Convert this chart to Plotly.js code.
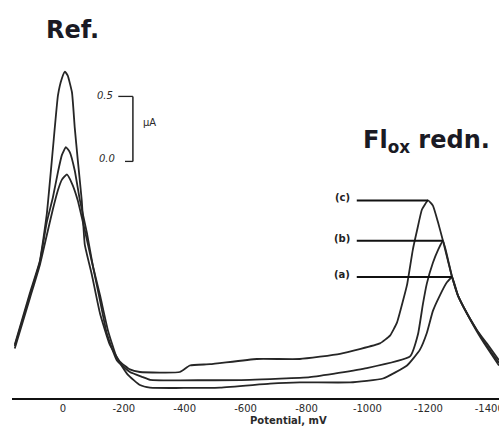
<!DOCTYPE html>
<html>
<head>
<meta charset="utf-8">
<script src="https://cdn.plot.ly/plotly-3.0.1.min.js"></script>
<style>html,body{margin:0;padding:0;background:#fff;}#chart{width:499px;height:429px;}</style>
</head>
<body>
<div id="chart"></div>
<script>
// Potential (mV) and current (uA, arbitrary offset) for the three voltammograms
const potC = [158,108,76,53,33,16,3,-7,-16,-30,-39,-49,-62,-72,-95,-122,-154,-187,-220,-253,-384,-417,-483,-637,-778,-910,-1041,-1074,-1097,-1117,-1130,-1149,-1163,-1179,-1199,-1215,-1232,-1248,-1264,-1278,-1297,-1327,-1360,-1392,-1432];
const curC = [0.41,0.81,1.05,1.41,1.91,2.33,2.46,2.51,2.48,2.35,2.08,1.83,1.52,1.18,0.95,0.65,0.41,0.28,0.22,0.20,0.20,0.25,0.26,0.30,0.30,0.34,0.42,0.48,0.58,0.75,0.87,1.14,1.29,1.45,1.52,1.48,1.35,1.21,1.06,0.93,0.79,0.65,0.52,0.42,0.29];

const potB = [158,108,76,53,33,16,3,-10,-23,-39,-56,-79,-99,-122,-144,-177,-220,-263,-286,-614,-811,-998,-1140,-1166,-1182,-1195,-1215,-1232,-1248,-1264,-1278,-1297,-1327,-1360,-1392,-1432];
const curB = [0.40,0.79,1.04,1.35,1.54,1.74,1.87,1.93,1.89,1.75,1.52,1.27,1.01,0.75,0.50,0.29,0.20,0.16,0.14,0.14,0.16,0.23,0.32,0.49,0.72,0.88,1.04,1.14,1.21,1.07,0.93,0.79,0.65,0.52,0.40,0.27];

const potA = [158,108,76,53,33,16,3,-13,-30,-49,-72,-95,-122,-148,-177,-213,-253,-286,-516,-680,-778,-943,-1051,-1130,-1172,-1195,-1215,-1238,-1261,-1278,-1297,-1327,-1360,-1392,-1432];
const curA = [0.38,0.77,1.02,1.25,1.45,1.60,1.68,1.72,1.65,1.52,1.29,1.05,0.79,0.52,0.31,0.18,0.10,0.08,0.08,0.11,0.12,0.12,0.15,0.25,0.37,0.50,0.67,0.79,0.89,0.93,0.79,0.65,0.51,0.39,0.25];

const tickVals = [0,-200,-400,-600,-800,-1000,-1200,-1400];
const tickText = ['0','-200','-400','-600','-800','-1000','-1200','-1400'];

// peak labels: name, peak potential, peak current
const peakNames = ['(c)','(b)','(a)'];
const peakPot = [-1199,-1248,-1278];
const peakCur = [1.52,1.21,0.93];
const labelLineStart = -965;

// scale bar (0.5 uA)
const scaleBarLow = 1.82, scaleBarHigh = 2.32;

const W = 499, H = 429, ML = 12, MR = 0, MT = 40, MB = 31;
const pxX = px => (px - ML) / (W - ML - MR);
const pxY = py => (H - MB - py) / (H - MT - MB);

const lineStyle = {color:'#262626', width:1.8, shape:'spline', smoothing:0.4};
const traces = [
  {x:potC, y:curC, mode:'lines', line:lineStyle, name:'c', hoverinfo:'skip'},
  {x:potB, y:curB, mode:'lines', line:lineStyle, name:'b', hoverinfo:'skip'},
  {x:potA, y:curA, mode:'lines', line:lineStyle, name:'a', hoverinfo:'skip'}
];

const small = {family:'DejaVu Sans', size:10, color:'#2a2a2a'};
const shapes = [];
const annotations = [];
peakNames.forEach((n,i)=>{
  shapes.push({type:'line', xref:'x', yref:'y', x0:labelLineStart, x1:peakPot[i], y0:peakCur[i], y1:peakCur[i], line:{color:'#111', width:2}});
  annotations.push({xref:'x', yref:'y', x:-918, y:peakCur[i] + 0.02, text:'<b>'+n+'</b>', showarrow:false, xanchor:'center', yanchor:'middle', font:{family:'DejaVu Sans', size:10, color:'#222'}});
});
// scale bar
shapes.push({type:'line', xref:'x', yref:'y', x0:-230, x1:-230, y0:scaleBarLow, y1:scaleBarHigh, line:{color:'#222', width:1.5}});
shapes.push({type:'line', xref:'x', yref:'y', x0:-182, x1:-230, y0:scaleBarHigh, y1:scaleBarHigh, line:{color:'#222', width:1.3}});
shapes.push({type:'line', xref:'x', yref:'y', x0:-204, x1:-230, y0:scaleBarLow, y1:scaleBarLow, line:{color:'#222', width:1.3}});
annotations.push({xref:'x', yref:'y', x:-138, y:scaleBarHigh+0.01, text:'<i>0.5</i>', showarrow:false, xanchor:'center', yanchor:'middle', font:small});
annotations.push({xref:'x', yref:'y', x:-144, y:scaleBarLow+0.02, text:'<i>0.0</i>', showarrow:false, xanchor:'center', yanchor:'middle', font:small});
annotations.push({xref:'x', yref:'y', x:-286, y:2.12, text:'μA', showarrow:false, xanchor:'center', yanchor:'middle', font:small});

// titles
const titleFont = {family:'DejaVu Sans', size:24, color:'#1a1a24'};
annotations.push({xref:'paper', yref:'paper', x:pxX(44), y:pxY(30), text:'<b>Ref.</b>', showarrow:false, xanchor:'left', yanchor:'middle', font:titleFont});
annotations.push({xref:'paper', yref:'paper', x:pxX(361), y:pxY(141), text:'<b>Fl<sub>ox</sub> redn.</b>', showarrow:false, xanchor:'left', yanchor:'middle', font:titleFont});
// x label
annotations.push({xref:'x', yref:'paper', x:-742, y:pxY(420), text:'<b>Potential, mV</b>', showarrow:false, xanchor:'center', yanchor:'middle', font:{family:'DejaVu Sans', size:10, color:'#2a2a2a'}});

const layout = {
  width:W, height:H,
  margin:{l:ML, r:MR, t:MT, b:MB, pad:0},
  paper_bgcolor:'#fff', plot_bgcolor:'#fff',
  showlegend:false,
  xaxis:{range:[167,-1432], tickvals:tickVals, ticktext:tickText, showgrid:false, zeroline:false,
         showline:true, linecolor:'#111', linewidth:2, ticks:'', ticklabeloverflow:'allow',
         tickfont:{family:'DejaVu Sans', size:10, color:'#2a2a2a'}, fixedrange:true},
  yaxis:{range:[0, 2.754], visible:false, fixedrange:true},
  shapes:shapes,
  annotations:annotations
};
Plotly.newPlot('chart', traces, layout, {staticPlot:true, displayModeBar:false});
</script>
</body>
</html>
